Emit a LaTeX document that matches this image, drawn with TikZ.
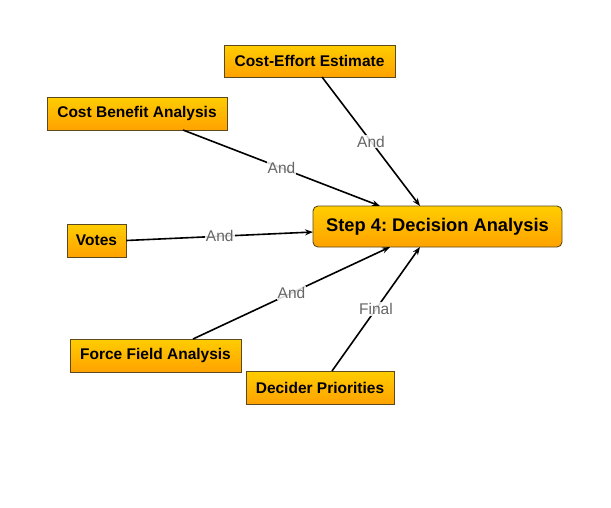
\documentclass[tikz,border=0pt]{standalone}
\usepackage{fontspec}
\setmainfont{Liberation Sans}
\frenchspacing
\usetikzlibrary{arrows.meta,shadows}
\definecolor{gtop}{HTML}{FFCD00}
\definecolor{gbot}{HTML}{FFA200}
\definecolor{bord}{HTML}{5C4A1E}
\definecolor{lbl}{HTML}{666666}
\tikzset{
  box/.style={draw=bord, line width=0.9pt, top color=gtop, bottom color=gbot,
    font=\fontsize{15.5}{17}\selectfont\bfseries, text=black, inner sep=0pt,
    anchor=center},
  conn/.style={line width=1.6pt, -{Stealth[length=8pt,width=6pt]}},
  elabel/.style={fill=white, fill opacity=0.85, text opacity=1, text=lbl,
    font=\fontsize{15.5}{17}\selectfont, inner sep=1pt}
}
\begin{document}
\begin{tikzpicture}[x=1pt,y=-1pt]
\useasboundingbox (0,0) rectangle (611,507);
\node[box, minimum width=171pt, minimum height=32pt] (ce) at (309.5,61) {Cost-Effort Estimate};
\node[box, minimum width=180pt, minimum height=33pt] (cb) at (137,113.5) {Cost Benefit Analysis};
\node[box, rounded corners=5pt, minimum width=249pt, minimum height=41pt,
  font=\fontsize{18.3}{20}\selectfont\bfseries] (st) at (437.5,226.5) {Step 4:\ Decision Analysis};
\node[box, minimum width=59pt, minimum height=33pt] (vo) at (96.5,240.5) {Votes};
\node[box, minimum width=171pt, minimum height=33pt] (ff) at (155.5,355.5) {Force Field Analysis};
\node[box, minimum width=148pt, minimum height=33pt] (dp) at (320,387.5) {Decider Priorities};
\coordinate (stA) at (420,206);
\coordinate (stB) at (380,206);
\coordinate (stC) at (313,232);
\coordinate (stD) at (390,247);
\coordinate (stE) at (420,247);
\coordinate (ceS) at (322,77);
\coordinate (cbS) at (183,130);
\coordinate (ffN) at (193,339);
\coordinate (dpN) at (332,371);
\draw[conn] (ceS) -- node[elabel, pos=0.5] {And} (stA);
\draw[conn] (cbS) -- node[elabel, pos=0.5] {And} (stB);
\draw[conn] (vo.east) -- node[elabel, pos=0.5] {And} (stC);
\draw[conn] (ffN) -- node[elabel, pos=0.5] {And} (stD);
\draw[conn] (dpN) -- node[elabel, pos=0.5] {Final} (stE);
\end{tikzpicture}
\end{document}
